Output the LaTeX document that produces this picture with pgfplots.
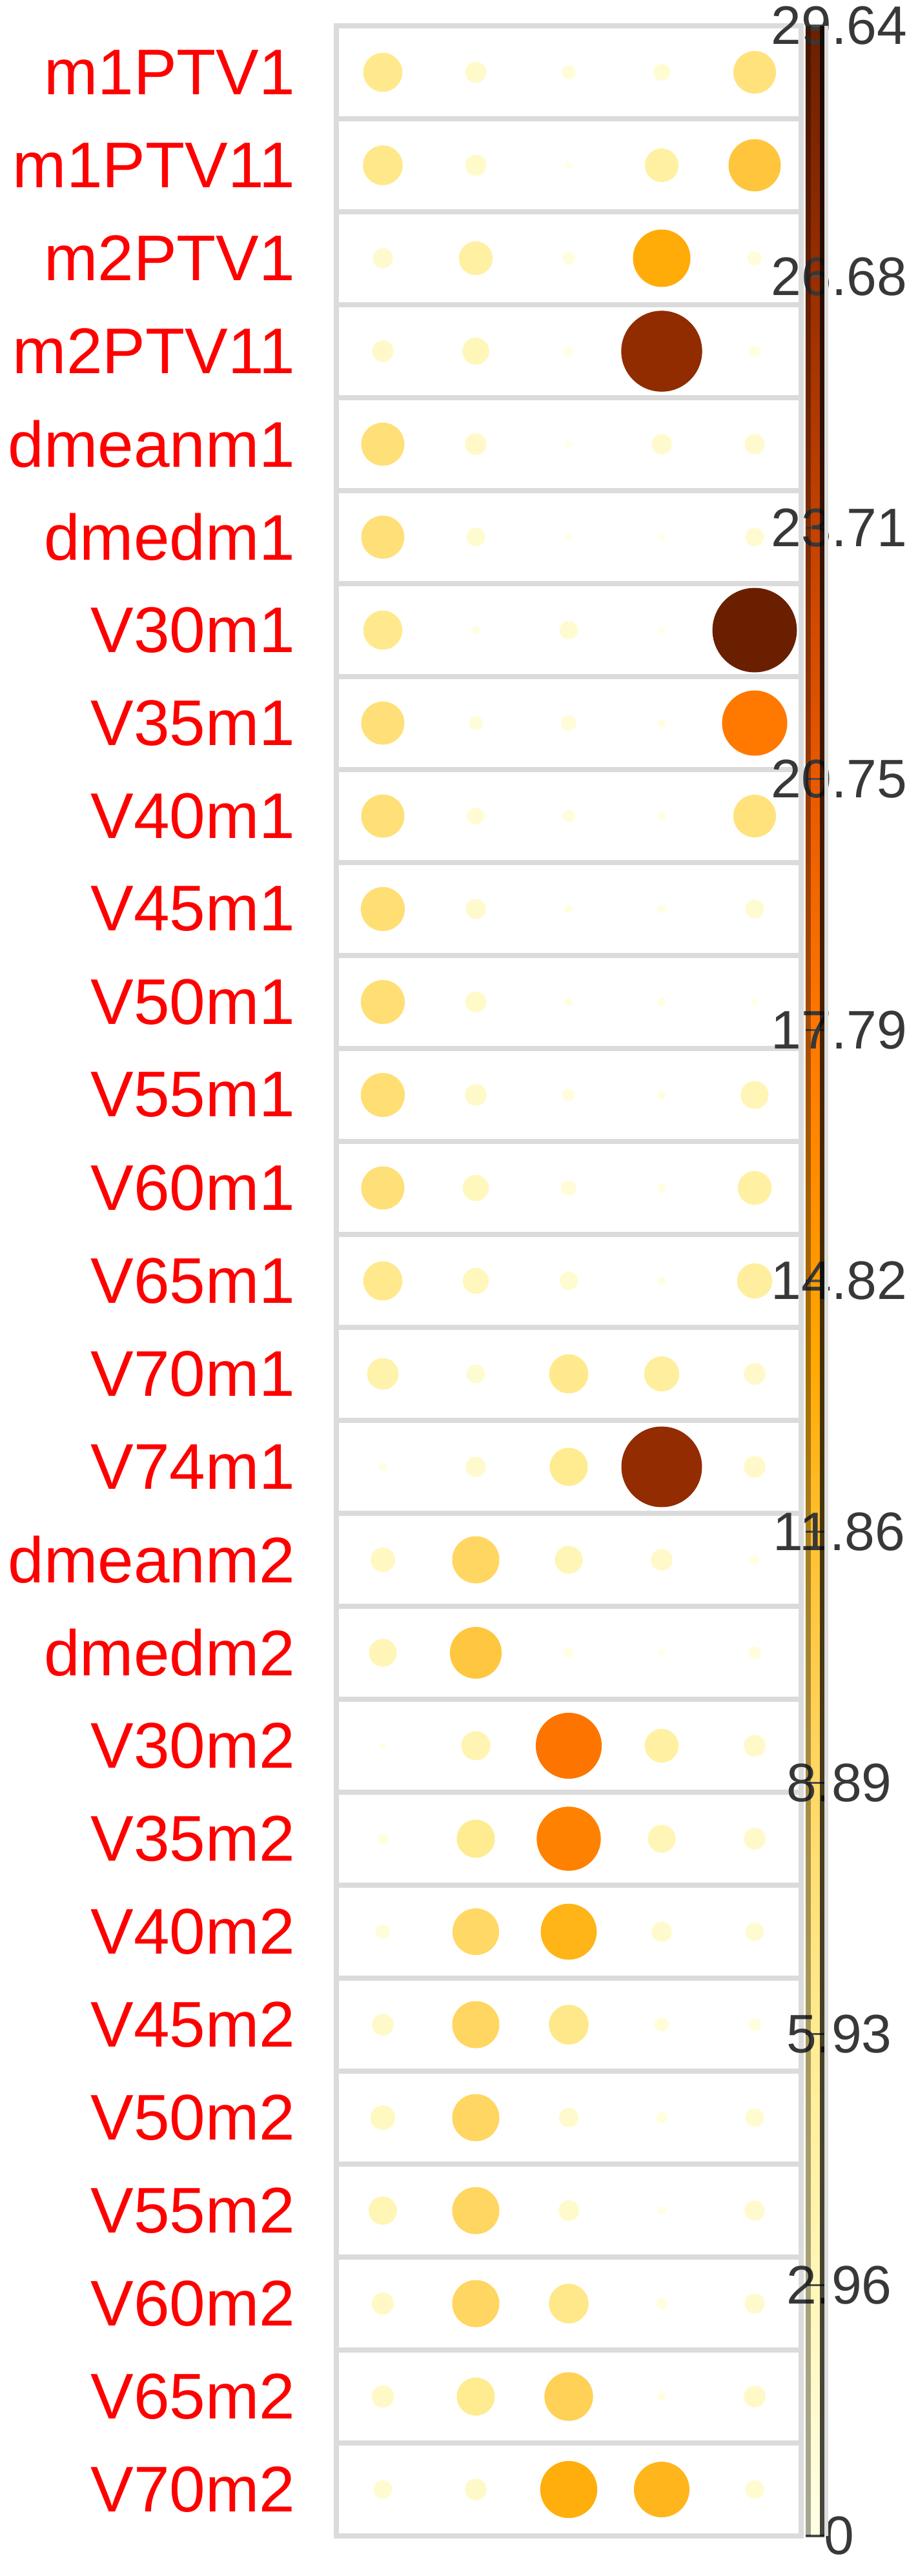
\documentclass[border=0pt]{standalone}
\usepackage{pgfplots}
\pgfplotsset{compat=1.18}
\usepackage{pgfplotstable}
\usepackage{fontspec}
\setmainfont{Liberation Sans}

% one row per variable, one column per circle
\pgfplotstableread{
row c1 c2 c3 c4 c5
1 6.2 1.75 0.77 1.14 7.4
2 6.4 1.75 0.15 4.6 11.2
3 1.6 4.6 0.6 13.6 0.77
4 1.85 2.9 0.34 27.2 0.46
5 7.6 1.85 0.15 1.6 1.6
6 7.6 1.36 0.15 0.15 1.36
7 6.2 0.24 1.36 0.15 29.64
8 7.6 0.77 0.95 0.24 17.6
9 7.6 1.14 0.6 0.24 7.4
10 7.9 1.6 0.24 0.24 1.36
11 7.9 1.75 0.24 0.24 0.15
12 7.9 1.85 0.6 0.24 3.1
13 7.6 2.7 0.95 0.24 4.6
14 6.2 2.7 1.36 0.24 5.0
15 4.0 1.36 6.2 5.0 1.85
16 0.24 1.6 5.9 27.0 1.85
17 2.4 9.1 3.1 1.85 0.34
18 3.1 11.0 0.34 0.15 0.6
19 0.15 3.4 18.0 4.6 1.85
20 0.46 5.9 17.0 3.1 1.85
21 0.77 8.9 12.9 1.6 1.36
22 1.85 9.1 6.4 0.77 0.6
23 2.4 9.1 1.5 0.46 1.36
24 3.2 9.1 1.65 0.24 1.6
25 1.95 9.1 6.4 0.46 1.6
26 1.95 5.9 9.7 0.24 1.85
27 1.36 1.85 13.4 12.7 1.36
}\cells

\begin{document}
\begin{tikzpicture}
\begin{axis}[
  name=main,
  scale only axis, width=180pt, height=972pt,
  xmin=0.5, xmax=5.5, ymin=0.5, ymax=27.5, y dir=reverse,
  xtick=\empty,
  minor xtick={0.5,1.5,...,5.5},
  ytick={1,...,27},
  minor ytick={0.5,1.5,...,27.5},
  yticklabels={m1PTV1,m1PTV11,m2PTV1,m2PTV11,dmeanm1,dmedm1,V30m1,V35m1,V40m1,V45m1,V50m1,V55m1,V60m1,V65m1,V70m1,V74m1,dmeanm2,dmedm2,V30m2,V35m2,V40m2,V45m2,V50m2,V55m2,V60m2,V65m2,V70m2},
  yticklabel style={font=\fontsize{25}{30}\selectfont, text=red, inner sep=0pt, anchor=east, xshift=-15.75pt},
  major tick length=0pt, minor tick length=0pt,
  grid=minor,
  minor grid style={draw=black!14, line width=2.2pt},
  axis line style={draw=black!14, line width=2.2pt},
  colormap={corr}{rgb255(0pt)=(255,255,229); rgb255(10pt)=(255,246,184); rgb255(20pt)=(255,235,144); rgb255(30pt)=(255,216,101); rgb255(40pt)=(255,192,48); rgb255(47pt)=(255,168,0); rgb255(50pt)=(255,156,0); rgb255(60pt)=(255,119,0); rgb255(70pt)=(232,88,0); rgb255(80pt)=(194,66,0); rgb255(90pt)=(152,46,0); rgb255(100pt)=(106,32,0)},
  point meta min=0, point meta max=29.64,
  colorbar,
  colorbar style={
    at={(parent axis.north east)}, anchor=north west, xshift=1.75pt-0.3cm,
    width=7.25pt,
    ytick={0,2.964,5.928,8.892,11.856,14.82,17.784,20.748,23.712,26.676,29.64},
    yticklabels={0,2.96,5.93,8.89,11.86,14.82,17.79,20.75,23.71,26.68,29.64},
    yticklabel style={font=\fontsize{21}{25}\selectfont, text=black!78, anchor=center, inner sep=0pt, xshift=5.75pt},
    major tick length=7.25pt, tick align=inside,
    major tick style={black!70, line width=0.8pt},
    axis line style={draw=none},
    after end axis/.append code={
      \fill[black, opacity=0.35] (rel axis cs:0,0) rectangle ([xshift=2pt]rel axis cs:0,1);
      \fill[black, opacity=0.72] ([xshift=-1.75pt]rel axis cs:1,0) rectangle (rel axis cs:1,1);
      \draw[black!13, line width=1.5pt] ([xshift=0.75pt]rel axis cs:1,0) -- ([xshift=0.75pt]rel axis cs:1,1);
    },
  },
]
\pgfplotsinvokeforeach{1,...,5}{
  \addplot[scatter, only marks, mark=*, point meta=explicit,
    scatter/use mapped color={draw=mapped color, fill=mapped color},
    mark options={line width=0.3pt},
    visualization depends on={16.2*sqrt(\thisrow{c#1}/29.64) \as \rad},
    scatter/@pre marker code/.append style={/tikz/mark size=\rad},
  ] table[x expr=#1, y=row, meta=c#1] {\cells};
}
\end{axis}
\pgfresetboundingbox
\path[use as bounding box] ([xshift=-130.25pt, yshift=-15.5pt]main.south west) rectangle ++(355.5pt, 997.5pt);
\end{tikzpicture}
\end{document}
